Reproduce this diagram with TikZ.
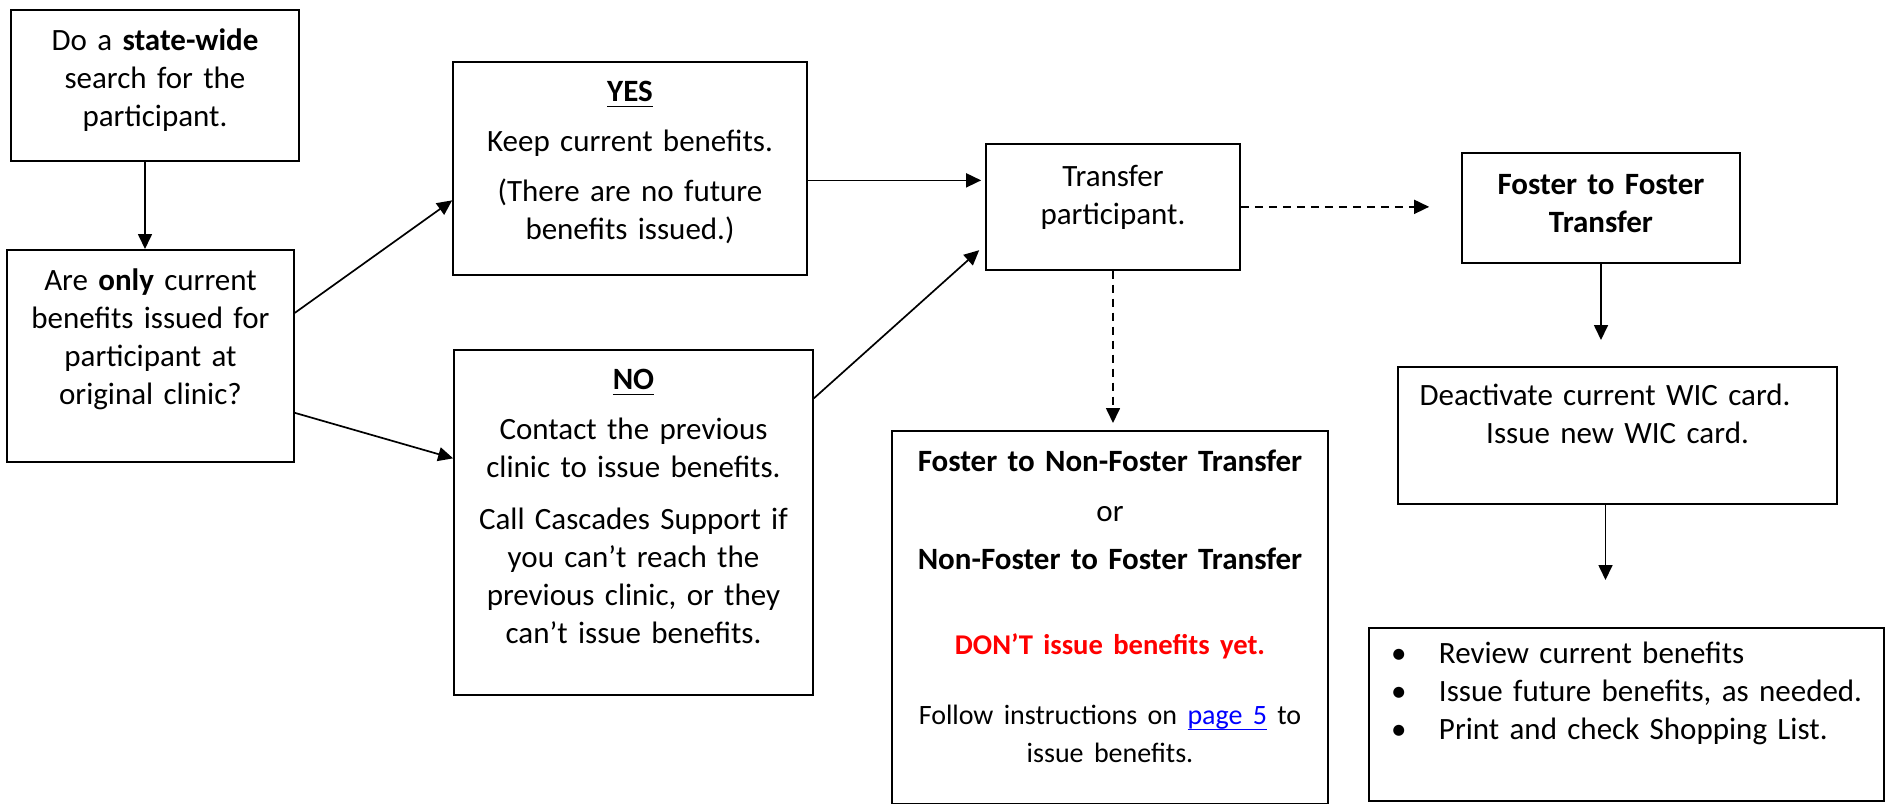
\documentclass[tikz,border=0pt]{standalone}
\usepackage{fontspec}
\setmainfont{Carlito}
\usetikzlibrary{arrows.meta}

\definecolor{dontred}{RGB}{255,0,0}
\definecolor{linkblue}{RGB}{0,0,255}

% underline a word with a thin rule just under the baseline
\newcommand{\ulbox}[1]{\setbox0\hbox{#1}\rlap{\rule[-2.6pt]{\wd0}{0.7pt}}\box0}
% bullet of the checklist
\newcommand{\blt}{\makebox[35pt][l]{\hspace*{11pt}\textbullet}}

\begin{document}
\begin{tikzpicture}[
  x=0.5pt, y=-0.5pt,
  box/.style={draw, line width=0.85pt, align=center, inner sep=0pt, anchor=north,
    font=\fontsize{15.5}{19}\selectfont},
  arr/.style={-{Triangle[length=7.5pt,width=7pt]}, line width=0.85pt},
  dasharr/.style={arr, dash pattern=on 4pt off 3pt}
]
\useasboundingbox (0,0) rectangle (1887,804);

% --- first column ---
\node[box, text width=144pt, text height=20.5pt, text depth=55pt] (search) at (155,9)
  {Do a \textbf{state-wide}\\ search for the\\ participant.};
\node[box, text width=143.5pt, text height=20.5pt, text depth=85.5pt] (only) at (150.5,249)
  {Are \textbf{only} current\\ benefits issued for\\ participant at\\ original clinic?};

% --- yes / no ---
\node[box, text width=177pt, text height=20pt, text depth=86.5pt] (yes) at (630,61)
  {\ulbox{\textbf{YES}}\\[6pt] Keep current benefits.\\[6pt] (There are no future\\ benefits issued.)};
\node[box, text width=179.5pt, text height=20pt, text depth=152.5pt] (no) at (633.5,349)
  {\ulbox{\textbf{NO}}\\[6pt] Contact the previous\\ clinic to issue benefits.\\[7pt]
   Call Cascades Support if\\ you can’t reach the\\ previous clinic, or they\\ can’t issue benefits.};

% --- transfer ---
\node[box, text width=127pt, text height=21.5pt, text depth=41.5pt] (transfer) at (1113,143)
  {Transfer\\ participant.};
\node[box, text width=218pt, text height=20.5pt, text depth=166pt] (nonfoster) at (1110,430)
  {\textbf{Foster to Non-Foster Transfer}\\[6pt] or\\[5pt] \textbf{Non-Foster to Foster Transfer}\\[23.5pt]
   {\fontsize{14.3}{19}\selectfont\textcolor{dontred}{\textbf{DON’T issue benefits yet.}}}\\[17pt]
   {\fontsize{14}{18}\selectfont Follow instructions on \textcolor{linkblue}{\ulbox{page 5}} to\\ issue benefits.}};

% --- foster to foster ---
\node[box, text width=139pt, text height=21pt, text depth=34pt, font=\fontsize{15.5}{19}\selectfont\bfseries] (foster) at (1601,152)
  {Foster to Foster\\ Transfer};
\node[box, text width=219.5pt, text height=19.5pt, text depth=49pt] (card) at (1617.5,366)
  {Deactivate current WIC card.\rule{12.5pt}{0pt}\\ Issue new WIC card.};
\node[box, align=left, text width=257.5pt, text height=18pt, text depth=68.5pt] (check) at (1626.5,627)
  {\blt Review current benefits\\ \blt Issue future benefits, as needed.\\ \blt Print and check Shopping List.};

% --- arrows ---
\draw[arr] ([xshift=-5pt]search.south) -- ([xshift=-5pt]search.south |- only.north);
\draw[arr] ([yshift=21.5pt]only.east) -- ([yshift=-16pt]yes.west);
\draw[arr] ([yshift=-28.5pt]only.east) -- ([yshift=32pt]no.west);
\draw[arr, shorten >=2pt] ([yshift=-6pt]yes.east) -- ([yshift=-6pt]yes.east -| transfer.west);
\draw[arr, shorten >=4pt] ([yshift=62pt]no.east) -- ([yshift=-19pt]transfer.west);

% dashed branches out of the transfer
\draw[dasharr, shorten >=16pt] (transfer.east) -- (transfer.east -| foster.west);
\draw[dasharr, shorten >=3.5pt] (transfer.south) -- (transfer.south |- nonfoster.north);

% foster to foster steps
\draw[arr, shorten >=13pt] (foster.south) -- (foster.south |- card.north);
\draw[arr, shorten >=23.5pt] ([xshift=-6pt]card.south) -- ([xshift=-6pt]card.south |- check.north);

\end{tikzpicture}
\end{document}
